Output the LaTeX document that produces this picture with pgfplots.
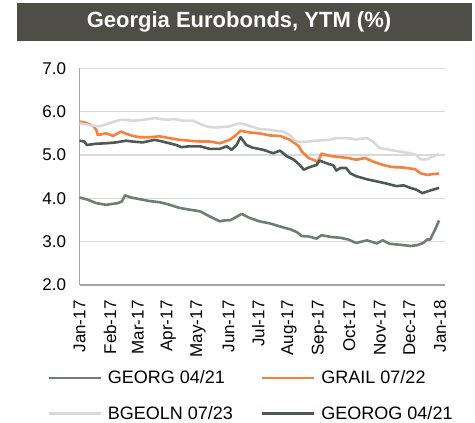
\documentclass[border=0pt]{standalone}
\usepackage{pgfplots}
\pgfplotsset{compat=1.18}
\usepackage{fontspec}
\setmainfont{Liberation Sans}
\definecolor{cGeorg}{HTML}{6F7E75}
\definecolor{cGrail}{HTML}{F7803C}
\definecolor{cBgeo}{HTML}{D9D9D9}
\definecolor{cGeorog}{HTML}{4D5A54}
\definecolor{cBar}{HTML}{4F4E46}
\definecolor{cGrid}{HTML}{D9D9D9}
\definecolor{cAxis}{HTML}{A6A6A6}
\begin{document}
\begin{tikzpicture}
\useasboundingbox (0,0) rectangle (475bp,423bp);
\fill[cBar] (17bp,382bp) rectangle (472bp,420bp);
\node[text=white, font=\fontsize{22bp}{26bp}\selectfont\bfseries, anchor=center] at (239bp,401bp) {Georgia Eurobonds, YTM (\%)};
\begin{axis}[
  at={(79.5bp,138bp)}, anchor=south west,
  scale only axis, width=365.5bp, height=216.7bp,
  xmin=0, xmax=370, ymin=2, ymax=7,
  axis x line*=bottom, axis y line*=left,
  axis line style={draw=cAxis, line width=1.3bp, -},
  major tick length=0pt,
  ytick={2,3,4,5,6,7},
  ymajorgrids, grid style={draw=cGrid, line width=1.2bp},
  xtick={0,31,59,90,120,151,181,212,243,273,304,334,365},
  xticklabels={Jan-17,Feb-17,Mar-17,Apr-17,May-17,Jun-17,Jul-17,Aug-17,Sep-17,Oct-17,Nov-17,Dec-17,Jan-18},
  xticklabel style={rotate=90, anchor=east, font=\fontsize{17bp}{20bp}\selectfont},
  xticklabel shift=12bp,
  yticklabel style={font=\fontsize{17bp}{20bp}\selectfont},
  yticklabel shift=10bp,
  /pgf/number format/assume math mode=true,
  yticklabel={\pgfmathprintnumber[fixed,fixed zerofill,precision=1]{\tick}},
  legend columns=2,
  legend cell align=left,
  legend image code/.code={\draw[#1] (0bp,0bp) -- (52bp,0bp);},
  legend style={draw=none, fill=none, at={(-0.0889,-0.395)}, anchor=north west,
    inner sep=0pt, row sep=21bp,
    nodes={inner sep=0pt, anchor=west, font=\fontsize{18bp}{21bp}\selectfont}},
  /tikz/every odd column/.append style={column sep=6bp},
  /tikz/every even column/.append style={column sep=28bp},
  clip=false,
]
\addplot[cGeorg, line width=2.6bp, line join=round] coordinates {
(0,4.02)(8,3.97)(17,3.89)(27,3.85)(33,3.87)(39,3.89)(43,3.93)(46,4.07)(52,4.02)(61,3.98)(70,3.94)(81,3.91)(90,3.86)(101,3.78)(111,3.74)(122,3.70)(132,3.58)(142,3.47)(147,3.49)(152,3.49)(158,3.56)(164,3.64)(172,3.55)(182,3.47)(193,3.42)(206,3.33)(214,3.28)(220,3.22)(225,3.13)(232,3.12)(240,3.07)(245,3.15)(254,3.11)(264,3.09)(272,3.05)(280,2.97)(291,3.03)(301,2.96)(307,3.03)(314,2.95)(324,2.93)(335,2.90)(342,2.92)(348,2.97)(352,3.05)(355,3.05)(360,3.28)(364,3.49)
};
\addlegendentry{GEORG 04/21}
\addplot[cGrail, line width=2.6bp, line join=round] coordinates {
(0,5.77)(5,5.75)(14,5.67)(17,5.58)(18.5,5.46)(27,5.50)(34,5.44)(42,5.54)(46,5.50)(54,5.44)(61,5.41)(71,5.41)(81,5.43)(91,5.39)(101,5.35)(111,5.33)(122,5.31)(132,5.31)(142,5.27)(152,5.35)(158,5.45)(163,5.56)(172,5.52)(182,5.50)(193,5.45)(203,5.44)(213,5.35)(218,5.27)(222,5.20)(225,5.08)(232,4.93)(239,4.87)(241,4.83)(245,5.03)(253,4.98)(264,4.95)(272,4.93)(280,4.89)(289,4.93)(297,4.85)(307,4.77)(317,4.72)(328,4.71)(340,4.67)(345,4.58)(352,4.54)(358,4.56)(364,4.57)
};
\addlegendentry{GRAIL 07/22}
\addplot[cBgeo, line width=2.6bp, line join=round] coordinates {
(0,5.73)(10,5.69)(20,5.66)(30,5.73)(35,5.77)(41,5.81)(47,5.81)(54,5.79)(64,5.81)(76,5.85)(88,5.81)(96,5.83)(105,5.79)(115,5.79)(125,5.69)(132,5.64)(142,5.64)(152,5.66)(160,5.72)(165,5.72)(172,5.67)(182,5.60)(193,5.58)(199,5.56)(206,5.54)(213,5.46)(217,5.35)(220,5.31)(228,5.30)(240,5.33)(253,5.35)(260,5.39)(270,5.39)(280,5.36)(291,5.39)(297,5.31)(304,5.16)(314,5.12)(324,5.08)(335,5.04)(341,5.00)(345,4.90)(352,4.90)(358,4.97)(364,5.02)
};
\addlegendentry{BGEOLN 07/23}
\addplot[cGeorog, line width=2.6bp, line join=round] coordinates {
(0,5.33)(5,5.31)(7.5,5.23)(17,5.26)(27,5.27)(37,5.29)(47,5.33)(54,5.31)(64,5.29)(76,5.35)(84,5.31)(91,5.27)(98,5.23)(103,5.18)(111,5.20)(122,5.20)(132,5.14)(142,5.14)(149,5.20)(154,5.12)(159,5.23)(163,5.41)(169,5.23)(175,5.17)(186,5.12)(196,5.04)(203,5.10)(210,4.97)(217,4.89)(223,4.77)(227,4.66)(233,4.72)(240,4.77)(243,4.87)(250,4.81)(257,4.76)(260,4.64)(264,4.70)(270,4.70)(274,4.58)(280,4.51)(291,4.44)(301,4.39)(311,4.34)(321,4.28)(328,4.30)(335,4.24)(341,4.20)(347,4.12)(355,4.18)(364,4.24)
};
\addlegendentry{GEOROG 04/21}
\end{axis}
\end{tikzpicture}
\end{document}
